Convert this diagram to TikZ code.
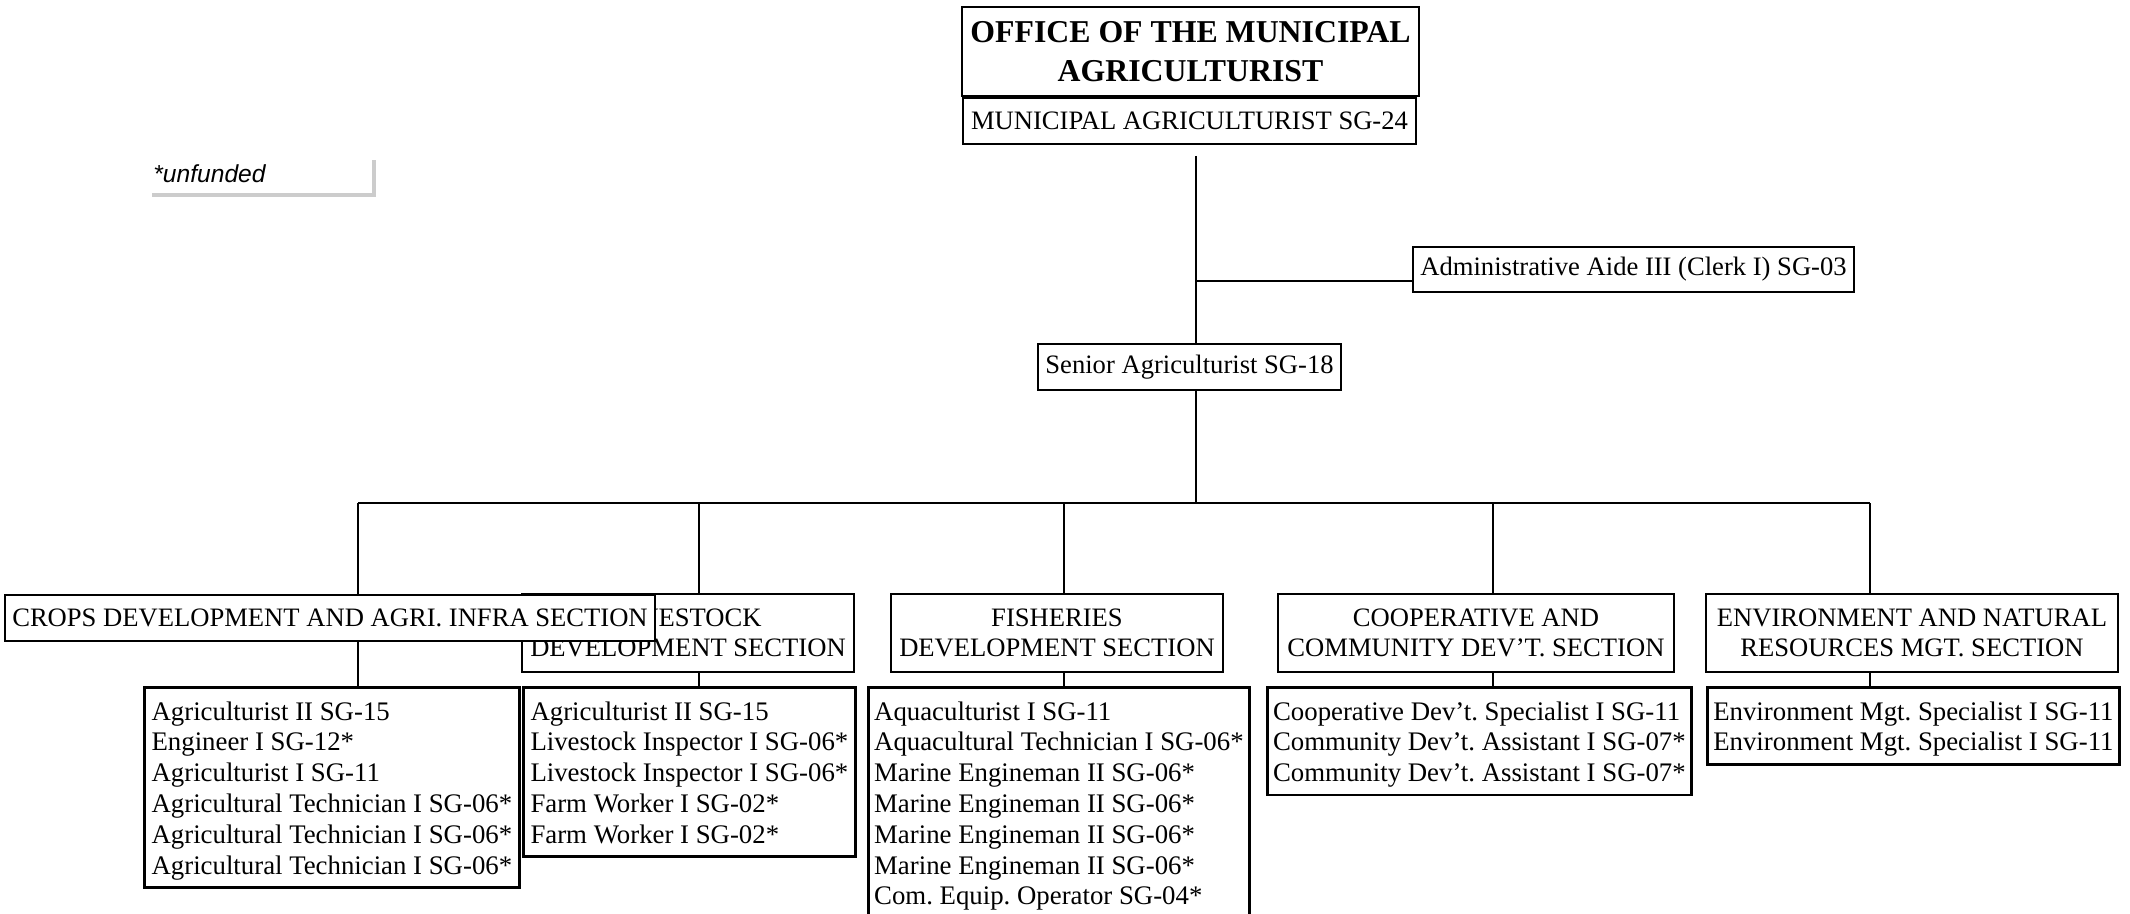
\documentclass[tikz,border=0pt]{standalone}
\usepackage{fontspec}
\setmainfont{Liberation Serif}
\newfontfamily\notefont{Liberation Sans}
\frenchspacing
\tikzset{
	unitbox/.style={draw, line width=1.4pt, fill=white, inner sep=0pt, font=\fontsize{13.3pt}{15pt}\selectfont},
	headbox/.style={unitbox, align=center},
	listbox/.style={unitbox, anchor=north west, align=left, inner xsep=2pt, inner ysep=4pt, text depth=2.65pt, font=\fontsize{13.4pt}{15.4pt}\selectfont},
	link/.style={line width=1.1pt},
}
\begin{document}
\begin{tikzpicture}[x=0.5pt,y=-0.5pt]
		\useasboundingbox (0,0) rectangle (2130,914);
		
		\node[anchor=base west, inner sep=0pt, font=\notefont\itshape\fontsize{12.3pt}{14pt}\selectfont] (note) at (153,183) {*unfunded};
		\draw[line width=2pt, black!20] (152,195) -| (374,160);
		
		\node[headbox, font=\fontsize{15.9pt}{19.5pt}\selectfont\bfseries, minimum width=228.5pt, minimum height=44.5pt] (office) at (1190.5,51.5) {OFFICE OF THE MUNICIPAL\\AGRICULTURIST};
		\node[headbox, minimum width=226.5pt, minimum height=23pt] (chief) at (1189.5,121) {MUNICIPAL AGRICULTURIST SG-24};
		\node[headbox, minimum width=220.5pt, minimum height=22.5pt] (aide) at (1633.5,269.5) {Administrative Aide III (Clerk I) SG-03};
		\node[headbox, minimum width=151.5pt, minimum height=23pt] (senior) at (1189.5,367) {Senior Agriculturist SG-18};
		
		\node[headbox, minimum width=166pt, minimum height=39pt] (livesec) at (688,633) {LIVESTOCK\\DEVELOPMENT SECTION};
		\node[headbox, minimum width=325pt, minimum height=23pt] (cropsec) at (330,618) {CROPS DEVELOPMENT AND AGRI. INFRA SECTION};
		\node[headbox, minimum width=166pt, minimum height=39pt] (fishsec) at (1057,633) {FISHERIES\\DEVELOPMENT SECTION};
		\node[headbox, minimum width=198pt, minimum height=39pt] (coopsec) at (1476,633) {COOPERATIVE AND\\COMMUNITY DEV’T. SECTION};
		\node[headbox, minimum width=206pt, minimum height=39pt] (envsec) at (1912,633) {ENVIRONMENT AND NATURAL\\RESOURCES MGT. SECTION};
		
		\node[listbox, minimum width=187.5pt, text height=89.35pt] (croplist) at (143,686) {Agriculturist II SG-15\\Engineer I SG-12*\\Agriculturist I SG-11\\Agricultural Technician I SG-06*\\Agricultural Technician I SG-06*\\Agricultural Technician I SG-06*};
		\node[listbox, minimum width=166pt, text height=73.95pt] (livelist) at (522,686) {Agriculturist II SG-15\\Livestock Inspector I SG-06*\\Livestock Inspector I SG-06*\\Farm Worker I SG-02*\\Farm Worker I SG-02*};
		\node[listbox, minimum width=190.5pt, text height=104.75pt] (fishlist) at (867,686) {Aquaculturist I SG-11\\Aquacultural Technician I SG-06*\\Marine Engineman II SG-06*\\Marine Engineman II SG-06*\\Marine Engineman II SG-06*\\Marine Engineman II SG-06*\\Com. Equip. Operator SG-04*};
		\node[listbox, minimum width=212pt, text height=43.15pt] (cooplist) at (1266,686) {Cooperative Dev’t. Specialist I SG-11\\Community Dev’t. Assistant I SG-07*\\Community Dev’t. Assistant I SG-07*};
		\node[listbox, minimum width=206pt, text height=27.75pt] (envlist) at (1706,686) {Environment Mgt. Specialist I SG-11\\Environment Mgt. Specialist I SG-11};
		
		\coordinate (top) at (1196,156);
		\coordinate (fork) at (1196,281);
		\coordinate (bus) at (1196,503);
		\coordinate (d1) at (358,503);
		\coordinate (d2) at (699,503);
		\coordinate (d3) at (1064,503);
		\coordinate (d4) at (1493,503);
		\coordinate (d5) at (1870,503);
		
		\draw[link] (top) -- (top |- senior.north);
		\draw[link] (fork) -- (fork -| aide.west);
		\draw[link] (senior.south -| top) -- (bus);
		\draw[link] (d1) -- (d5);
		\foreach \d/\s/\l in {d1/cropsec/croplist, d2/livesec/livelist, d3/fishsec/fishlist, d4/coopsec/cooplist, d5/envsec/envlist}
			\draw[link] (\d) -- (\d |- \s.north) (\s.south -| \d) -- (\d |- \l.north);
		
		\end{tikzpicture}
\end{document}
